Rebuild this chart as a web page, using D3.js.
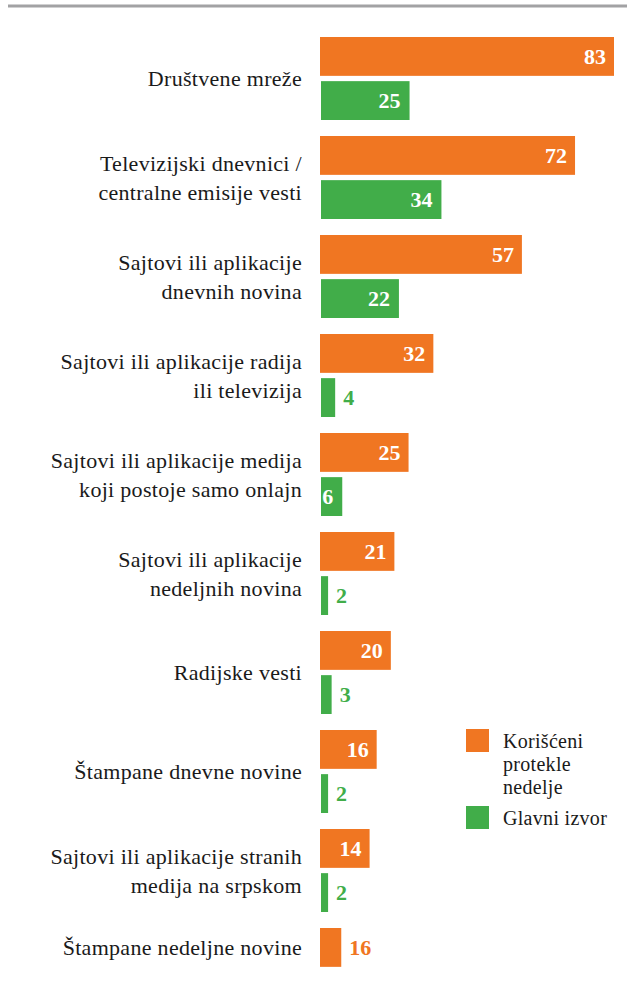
<!DOCTYPE html>
<html lang="sr">
<head>
  <meta charset="utf-8">
  <title>Izvori vesti</title>
  <style>
    body { margin: 0; background: #fff; }
  </style>
</head>
<body>
  <script src="https://cdn.jsdelivr.net/npm/d3@7"></script>
  <script>
    var width = 627;
    var height = 986;
    var serif = "'Liberation Serif', serif";

    // data
    var categories = [
      ["Društvene mreže"],
      ["Televizijski dnevnici /", "centralne emisije vesti"],
      ["Sajtovi ili aplikacije", "dnevnih novina"],
      ["Sajtovi ili aplikacije radija", "ili televizija"],
      ["Sajtovi ili aplikacije medija", "koji postoje samo onlajn"],
      ["Sajtovi ili aplikacije", "nedeljnih novina"],
      ["Radijske vesti"],
      ["Štampane dnevne novine"],
      ["Sajtovi ili aplikacije stranih", "medija na srpskom"],
      ["Štampane nedeljne novine"]
    ];
    var usedLastWeek = [83, 72, 57, 32, 25, 21, 20, 16, 14, 6];
    var usedLastWeekLabels = ["83", "72", "57", "32", "25", "21", "20", "16", "14", "16"];
    var mainSource = [25, 34, 22, 4, 6, 2, 3, 2, 2, null];
    var seriesNames = ["Korišćeni protekle nedelje", "Glavni izvor"];
    var legendLines = [["Korišćeni", "protekle", "nedelje"], ["Glavni izvor"]];
    var colors = ["#f07622", "#41ad49"];

    var svg = d3.select("body").append("svg")
      .attr("width", width)
      .attr("height", height);

    // top rule
    svg.append("line")
      .attr("x1", 8).attr("x2", width)
      .attr("y1", 6).attr("y2", 6)
      .attr("stroke", "#a2a2a4")
      .attr("stroke-width", 3);

    var idx = d3.range(categories.length);

    var y = d3.scaleBand()
      .domain(idx)
      .range([37, 37 + 99 * categories.length])
      .paddingInner(0);

    var ySub = d3.scaleBand()
      .domain([0, 1])
      .range([0, 83])
      .paddingInner(0.12);

    var x = d3.scaleLinear()
      .domain([0, 83])
      .range([320, 614]);

    var rows = [];
    idx.forEach(function(i) {
      rows.push({ cat: i, s: 0, v: usedLastWeek[i], label: usedLastWeekLabels[i] });
      if (mainSource[i] != null) {
        rows.push({ cat: i, s: 1, v: mainSource[i], label: String(mainSource[i]) });
      }
    });

    var groups = svg.append("g").selectAll("g")
      .data(rows)
      .enter().append("g");

    groups.append("rect")
      .attr("x", function(d) { return x(0) + d.s; })
      .attr("y", function(d) { return y(d.cat) + ySub(d.s); })
      .attr("width", function(d) { return x(d.v) - x(0); })
      .attr("height", ySub.bandwidth())
      .attr("fill", function(d) { return colors[d.s]; });

    // value labels: inside (white) when they fit, otherwise after the bar
    groups.append("text")
      .text(function(d) { return d.label; })
      .style("font-family", serif)
      .style("font-size", "22px")
      .style("font-weight", "bold")
      .attr("y", function(d) { return y(d.cat) + ySub(d.s) + ySub.bandwidth() / 2; })
      .attr("dy", "0.35em")
      .each(function(d) {
        var t = d3.select(this);
        var w = this.getComputedTextLength();
        var inside = w + 10 < x(d.v) - x(0);
        t.attr("x", inside ? x(d.v) - 8 : x(d.v) + 8 + d.s)
         .attr("text-anchor", inside ? "end" : "start")
         .attr("fill", inside ? "#fff" : colors[d.s]);
      });

    // category labels, centred on the bars present in the group
    var catLabels = svg.append("g").selectAll("text")
      .data(idx)
      .enter().append("text")
      .style("font-family", serif)
      .style("font-size", "22px")
      .style("letter-spacing", "0.3px")
      .attr("text-anchor", "end")
      .attr("fill", "#1a1a1a");

    catLabels.selectAll("tspan")
      .data(function(i) {
        var lines = categories[i];
        var mid = mainSource[i] != null ? y(i) + 41.5 : y(i) + ySub.bandwidth() / 2;
        return lines.map(function(l, k) {
          return { text: l, y: mid + (k - (lines.length - 1) / 2) * 29 };
        });
      })
      .enter().append("tspan")
      .attr("x", 302)
      .attr("y", function(d) { return d.y; })
      .attr("dy", "0.35em")
      .text(function(d) { return d.text; });

    // legend
    var legendTop = [729, 806];
    var legend = svg.append("g").selectAll("g")
      .data(seriesNames)
      .enter().append("g");

    legend.append("rect")
      .attr("x", 466)
      .attr("y", function(d, i) { return legendTop[i]; })
      .attr("width", 23)
      .attr("height", 23)
      .attr("fill", function(d, i) { return colors[i]; });

    legend.append("text")
      .style("font-family", serif)
      .style("font-size", "20px")
      .style("letter-spacing", "0.3px")
      .attr("fill", "#1a1a1a")
      .selectAll("tspan")
      .data(function(d, i) {
        return legendLines[i].map(function(l, k) { return { text: l, y: legendTop[i] + 19 + k * 23 }; });
      })
      .enter().append("tspan")
      .attr("x", 503)
      .attr("y", function(d) { return d.y; })
      .text(function(d) { return d.text; });
  </script>
</body>
</html>
